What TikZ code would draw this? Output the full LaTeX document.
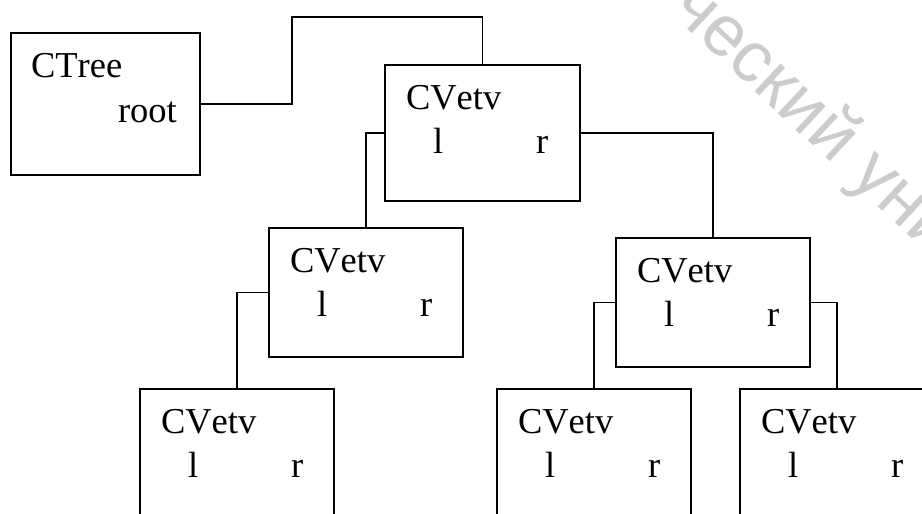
\documentclass[tikz,border=0pt]{standalone}
\usepackage{fontspec}
\setmainfont{Liberation Serif}[Kerning=Off]
\newfontfamily\wmfont{Liberation Sans}
\usetikzlibrary{calc}
\definecolor{wmgray}{RGB}{204,204,204}
\begin{document}
\begin{tikzpicture}[x=1pt,y=-1pt,
  box/.style={draw, line width=1.8pt, rectangle, inner sep=0pt, outer sep=0pt, anchor=north west},
  conn/.style={draw, line width=1.8pt},
  lbl/.style={anchor=base west, inner sep=0pt, outer sep=0pt, font=\fontsize{36.5}{40}\selectfont},
  wmark/.style={anchor=west, inner sep=0pt, outer sep=0pt, text=wmgray, font=\wmfont\fontsize{72}{76}\selectfont, rotate=-43}]
\useasboundingbox (0,0) rectangle (922,514);
\clip (0,0) rectangle (922,514);
% watermark
\node[wmark] (wm) at (682,-3) {ческий университет};
% boxes
\node[box, minimum width=189, minimum height=142] (ctree) at (11,33) {};
\node[box, minimum width=195, minimum height=136] (n0) at (385,65) {};
\node[box, minimum width=194, minimum height=129] (n1) at (269,228) {};
\node[box, minimum width=194, minimum height=129] (n2) at (616,238) {};
\node[box, minimum width=194, minimum height=140] (n3) at (140,389) {};
\node[box, minimum width=194, minimum height=140] (n4) at (497,389) {};
\node[box, minimum width=194, minimum height=140] (n5) at (740,389) {};
% texts
\node[lbl] (ctree-name) at ($(ctree.north west)+(20,44)$) {CTree};
\node[lbl] (ctree-root) at ($(ctree.north west)+(107,89)$) {root};
\foreach \n in {n0,n1,n2,n3,n4,n5}{
  \node[lbl] (\n-name) at ($(\n.north west)+(21,44)$) {CVetv};
  \node[lbl] (\n-l) at ($(\n.north west)+(48,88)$) {l};
  \node[lbl] (\n-r) at ($(\n.north west)+(151,88)$) {r};
}
% connectors
\coordinate (c1) at (292,17);
\draw[conn] (ctree.east) -| (c1) -| (n0.north);
\draw[conn] (n0.west) -| (n1.north);
\draw[conn] (n0.east) -| (n2.north);
\draw[conn] (n1.west) -| (n3.north);
\draw[conn] (n2.west) -| (n4.north);
\draw[conn] (n2.east) -| (n5.north);
\end{tikzpicture}
\end{document}
